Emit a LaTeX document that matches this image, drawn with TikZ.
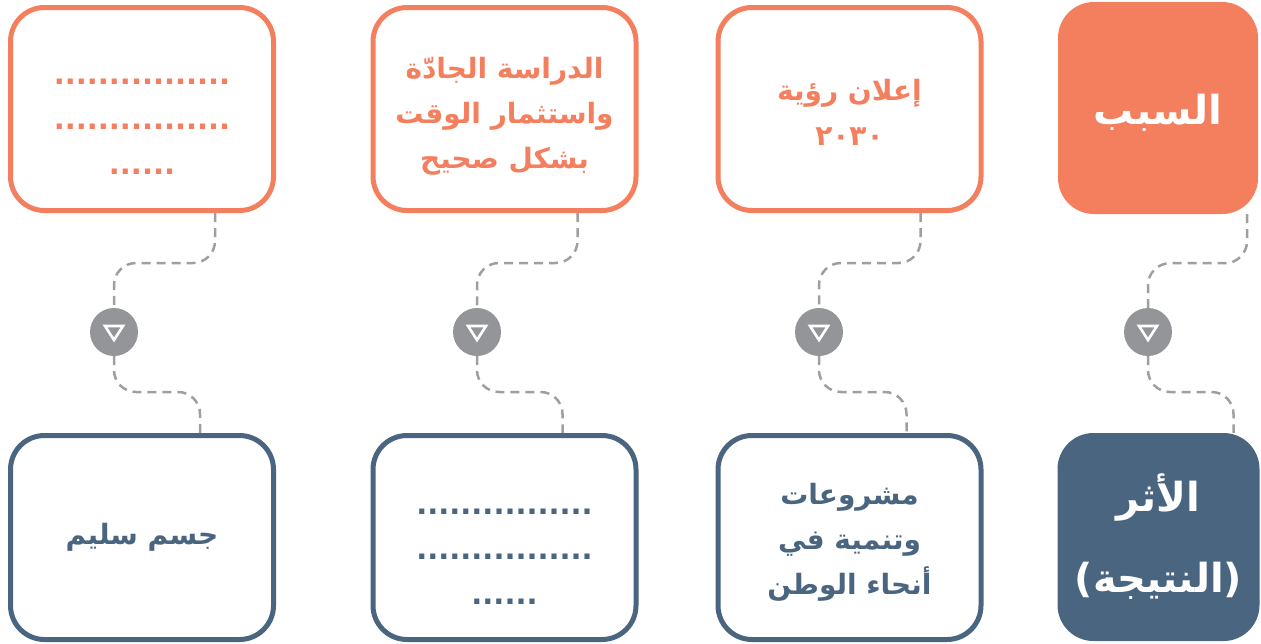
\documentclass[tikz,border=0pt]{standalone}
\usepackage{fontspec}
\TeXXeTstate=1
\newfontfamily\arabicfont[Script=Arabic]{DejaVu Sans}
\usetikzlibrary{calc}
\definecolor{cOrange}{RGB}{244,127,94}
\definecolor{cBlue}{RGB}{74,101,128}
\definecolor{cCircle}{RGB}{147,149,152}
\definecolor{cDash}{RGB}{157,159,162}
\newcommand{\afont}{\arabicfont\bfseries\fontsize{28}{45}\selectfont}
\newcommand{\dotfont}{\arabicfont\bfseries\fontsize{29}{45}\selectfont}
\newcommand{\bigafont}{\arabicfont\bfseries\fontsize{40}{81}\selectfont}
\begin{document}
\begin{tikzpicture}[x=1pt,y=-1pt,
  obox/.style={draw=cOrange, line width=5pt, rounded corners=34pt, fill=white,
    inner sep=0pt, minimum width=263pt, minimum height=203pt},
  bbox/.style={draw=cBlue, line width=5pt, rounded corners=34pt, fill=white,
    inner sep=0pt, minimum width=263pt, minimum height=204pt},
  ofill/.style={fill=cOrange, rounded corners=36pt,
    inner sep=0pt, minimum width=200pt, minimum height=212pt},
  bfill/.style={fill=cBlue, rounded corners=36pt,
    inner sep=0pt, minimum width=202pt, minimum height=208pt},
  otxt/.style={text=cOrange, align=center, inner sep=0pt, font=\afont},
  btxt/.style={text=cBlue, align=center, inner sep=0pt, font=\afont},
  wtxt/.style={text=white, align=center, inner sep=0pt, font=\bigafont},
  mid/.style={circle, fill=cCircle, minimum size=48pt, inner sep=0pt, outer sep=0pt},
  conn/.style={draw=cDash, line width=2.5pt, dash pattern=on 9pt off 6pt, rounded corners=22pt},
  tri/.style={draw=white, line width=2.6pt, line join=miter},
]
\useasboundingbox (0,0) rectangle (1261,643);

% top row boxes
\node[obox] (t1) at (142,109) {};
\node[obox] (t2) at (504.5,109) {};
\node[obox] (t3) at (849.5,109) {};
\node[ofill] (t4) at (1158,108) {};
% top row texts
\node[otxt, font=\dotfont] (t1l) at ([yshift=-18pt]t1.center) {................\\................\\......};
\node[otxt] (t2l) at ([yshift=-7pt]t2.center) {\beginR الدراسة الجادّة\endR\\\beginR واستثمار الوقت\endR\\\beginR بشكل صحيح\endR};
\node[otxt] (t3l) at ([yshift=-3pt]t3.center) {\beginR إعلان رؤية\endR\\\beginR ٢٠٣٠\endR};
\node[wtxt] (t4l) at ([yshift=-5pt]t4.center) {\beginR السبب\endR};

% bottom row boxes
\node[bbox] (b1) at (142,537.5) {};
\node[bbox] (b2) at (504.5,537.5) {};
\node[bbox] (b3) at (849.5,537.5) {};
\node[bfill] (b4) at (1158.5,537) {};
% bottom row texts
\node[btxt] (b1l) at (b1.center) {\beginR جسم سليم\endR};
\node[btxt, font=\dotfont] (b2l) at ([yshift=-19pt]b2.center) {................\\................\\......};
\node[btxt] (b3l) at ([yshift=-5pt]b3.center) {\beginR مشروعات\endR\\\beginR وتنمية في\endR\\\beginR أنحاء الوطن\endR};
\node[wtxt] (b4l) at (b4.center) {\beginR الأثر\endR\\\beginR (النتيجة)\endR};

% middle circles
\node[mid] (c1) at (114,332) {};
\node[mid] (c2) at (477,332) {};
\node[mid] (c3) at (819,332) {};
\node[mid] (c4) at (1148,332) {};

\foreach \c in {c1,c2,c3,c4}{
  \draw[tri] ([shift={(-9,-6)}]\c.center) -- ([shift={(9,-6)}]\c.center)
    -- ([shift={(0,8)}]\c.center) -- cycle;
}

% connectors
\draw[conn] ([xshift=73pt]t1.south) -- ++(0,50) -| (c1.north);
\draw[conn] (c1.south) -- ++(0,36) -| ([xshift=58pt]b1.north);
\draw[conn] ([xshift=73pt]t2.south) -- ++(0,50) -| (c2.north);
\draw[conn] (c2.south) -- ++(0,36) -| ([xshift=58pt]b2.north);
\draw[conn] ([xshift=71pt]t3.south) -- ++(0,50) -| (c3.north);
\draw[conn] (c3.south) -- ++(0,36) -| ([xshift=57pt]b3.north);
\draw[conn] ([xshift=89pt]t4.south) -- ++(0,49) -| (c4.north);
\draw[conn] (c4.south) -- ++(0,36) -| ([xshift=75pt]b4.north);
\end{tikzpicture}
\end{document}
